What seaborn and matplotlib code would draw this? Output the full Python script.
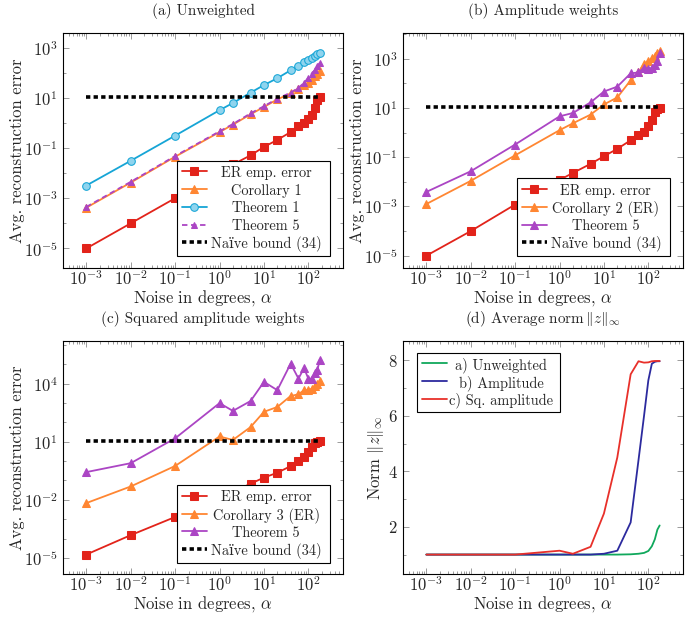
import numpy as np
import pandas as pd
import matplotlib
matplotlib.use('Agg')
import matplotlib.pyplot as plt
import seaborn as sns
from matplotlib.text import Text
from matplotlib.legend_handler import HandlerLine2D
from matplotlib.ticker import FixedLocator, LogFormatterSciNotation, NullFormatter

sns.set_style('ticks')
plt.rcParams['font.family'] = ['cmr10', 'DejaVu Serif']
plt.rcParams['mathtext.fontset'] = 'cm'
plt.rcParams['axes.unicode_minus'] = False
plt.rcParams['axes.formatter.use_mathtext'] = True

# ---------------- data ----------------
alpha = [1e-3, 1e-2, 1e-1, 1, 2, 5, 10, 20, 40, 60, 80, 100, 120, 140, 160, 180]

# (a) unweighted
er_a = [1.0e-5, 1.0e-4, 1.0e-3, 0.011, 0.022, 0.051, 0.11, 0.21, 0.43, 0.72, 0.97, 1.45, 2.1, 3.9, 8.2, 10.5]
cor1_a = [4.2e-4, 4.2e-3, 0.045, 0.43, 0.85, 2.2, 4.3, 8.6, 15, 23, 31, 40, 53, 71, 91, 112]
thm1_a = [3.2e-3, 0.031, 0.31, 3.2, 6.2, 16, 32, 60, 125, 190, 255, 330, 400, 460, 540, 620]
thm5_a = [4.5e-4, 4.5e-3, 0.048, 0.46, 0.9, 2.4, 4.6, 9.2, 16, 25, 39, 62, 91, 130, 178, 240]

# (b) amplitude weights
er_b = [1.0e-5, 1.0e-4, 1.2e-3, 0.012, 0.023, 0.054, 0.11, 0.22, 0.49, 0.8, 1.1, 1.8, 3.4, 7.2, 9.4, 10.2]
cor2_b = [1.26e-3, 0.011, 0.12, 1.26, 2.4, 5.4, 14, 27, 135, 280, 630, 830, 1050, 1290, 1700, 2040]
thm5_b = [3.9e-3, 0.027, 0.33, 4.6, 6.3, 17, 47, 74, 257, 280, 440, 400, 420, 540, 830, 1700]

# (c) squared amplitude weights
er_c = [1.5e-5, 1.5e-4, 1.3e-3, 0.012, 0.025, 0.068, 0.14, 0.25, 0.55, 1.0, 1.6, 2.8, 5.5, 8.5, 10.0, 10.7]
cor3_c = [6.8e-3, 0.049, 0.56, 18.6, 12.3, 57, 350, 620, 2300, 2800, 4600, 4600, 5500, 7600, 10000, 13800]
thm5_c = [0.27, 0.78, 15, 980, 390, 1260, 12300, 4600, 107000, 18200, 63000, 18200, 18200, 37000, 49000, 166000]

# naive bound (34)
naive_x = [1e-3, 180]
naive_y = [11.2, 11.2]

# (d) average norm
norm_unw = [1, 1, 1, 1, 1, 1, 1, 1, 1.01, 1.03, 1.06, 1.13, 1.3, 1.55, 1.9, 2.05]
norm_amp = [1, 1, 1, 1, 1, 1, 1.03, 1.14, 2.16, 4.4, 6.0, 7.28, 7.88, 7.95, 7.97, 7.97]
norm_sq = [1, 1, 1, 1.14, 1.03, 1.28, 2.48, 4.5, 7.5, 7.97, 7.92, 7.93, 7.97, 7.98, 7.98, 7.98]

x_major = [1e-3, 1e-2, 1e-1, 1e0, 1e1, 1e2]

titles = ['(a) Unweighted', '(b) Amplitude weights', '(c) Squared amplitude weights',
          r'(d) Average norm$\,\|z\|_\infty$']
xlabel = r'Noise in degrees, $\alpha$'
ylabel = 'Avg. reconstruction error'
ylabel_d = r'Norm $\|z\|_\infty$'

RED = '#e2231a'
ORANGE = '#ff8632'
CYAN = '#16a5d6'
PURPLE = '#ab45c4'
GREEN = '#10a85c'
BLUE = '#2c2a9e'
RED2 = '#e8302a'

FS = 12      # axis labels / ticks
TFS = 10.9   # titles
LFS = 10.4   # legend
W, H = 685, 619
fig = plt.figure(figsize=(W / 100, H / 100), dpi=100)


def rect(l, r, t, b):
    return [l / W, 1 - b / H, (r - l) / W, (b - t) / H]


ax_a = fig.add_axes(rect(63, 343, 33, 268))
ax_b = fig.add_axes(rect(403, 683, 33, 268))
ax_c = fig.add_axes(rect(63, 343, 341, 574))
ax_d = fig.add_axes(rect(403, 683, 341, 574))


class CenteredText(HandlerLine2D):
    def __init__(self, text, line_len, fontsize, **kw):
        super().__init__(**kw)
        self.text = text
        self.line_len = line_len
        self.fs = fontsize

    def create_artists(self, legend, orig_handle, xdescent, ydescent, width, height,
                       fontsize, trans):
        arts = super().create_artists(legend, orig_handle, xdescent, ydescent,
                                      self.line_len, height, fontsize, trans)
        t = Text(-xdescent + self.line_len + (width - self.line_len) / 2,
                 (height - ydescent) / 2, self.text, ha='center', va='center_baseline',
                 fontsize=self.fs, family=['cmr10', 'DejaVu Serif'], transform=trans)
        return list(arts) + [t]


def make_legend(ax, handles, labels, width_px, loc, anchor):
    fs = LFS
    L = width_px * 0.72 / fs - 0.66
    hm = {h: CenteredText(lab, 18.0, fs) for h, lab in zip(handles, labels)}
    leg = ax.legend(handles, [''] * len(handles), handler_map=hm, handlelength=L,
                    handletextpad=0, handleheight=1.05, borderpad=0.33, labelspacing=0.22,
                    loc=loc, bbox_to_anchor=anchor, borderaxespad=0, fancybox=False,
                    edgecolor='black', framealpha=1, numpoints=1, fontsize=fs)
    leg.get_frame().set_linewidth(0.8)
    return leg


def style_axis(ax, ymajor=None, yminor=None, log_y=True):
    ax.set_xlim(10 ** -3.526, 10 ** 2.781)
    ax.xaxis.set_major_locator(FixedLocator(x_major))
    x_minor = [m * d for d in [1e-4] + x_major for m in range(2, 10)
               if 10 ** -3.526 < m * d < 10 ** 2.781]
    ax.xaxis.set_minor_locator(FixedLocator(x_minor))
    ax.xaxis.set_minor_formatter(NullFormatter())
    ax.xaxis.set_major_formatter(LogFormatterSciNotation())
    if log_y:
        ax.yaxis.set_major_locator(FixedLocator(ymajor))
        ax.yaxis.set_minor_locator(FixedLocator(yminor))
        ax.yaxis.set_major_formatter(LogFormatterSciNotation())
        ax.yaxis.set_minor_formatter(NullFormatter())
    ax.tick_params(which='both', direction='in', top=True, right=True, color='#8c8c8c',
                   labelsize=FS, width=0.6)
    ax.tick_params(which='major', length=4)
    ax.tick_params(which='minor', length=2)
    ax.tick_params(axis='x', pad=0.5)
    ax.tick_params(axis='y', pad=4)
    for s in ax.spines.values():
        s.set_color('black')
        s.set_linewidth(0.8)
    ax.set_xlabel(xlabel, fontsize=FS, labelpad=0)


LW = 1.3
MS = 5.5


def line(ax, y, color, marker=None, ls='-', ms=MS, mfc=None, mec=None, lw=LW):
    sns.lineplot(x=alpha, y=y, ax=ax, color=color, marker=marker, linestyle=ls,
                 markersize=ms, markerfacecolor=mfc if mfc else color,
                 markeredgecolor=mec if mec else color, linewidth=lw, legend=False)
    return ax.lines[-1]


def naive(ax):
    sns.lineplot(x=naive_x, y=naive_y, ax=ax, color='black', linewidth=2.6,
                 linestyle=(0, (1.2, 0.9)), legend=False)
    return ax.lines[-1]


for ax in (ax_a, ax_b, ax_c):
    ax.set_xscale('log')
    ax.set_yscale('log')
ax_d.set_xscale('log')

# ---------- (a) ----------
h1 = line(ax_a, er_a, RED, 's')
h2 = line(ax_a, cor1_a, ORANGE, '^')
h3 = line(ax_a, thm1_a, CYAN, 'o', mfc='#8fd4ee')
h4 = line(ax_a, thm5_a, PURPLE, '^', ls=(0, (3, 2)), ms=4.5)
h5 = naive(ax_a)
ax_a.set_ylim(10 ** -5.78, 10 ** 3.58)
style_axis(ax_a, [1e-5, 1e-3, 1e-1, 1e1, 1e3], [1e-4, 1e-2, 1e0, 1e2])
ax_a.set_ylabel(ylabel, fontsize=FS, labelpad=-1)
ax_a.set_title(titles[0], fontsize=TFS, pad=13)
make_legend(ax_a, [h1, h2, h3, h4, h5],
            ['ER emp. error', 'Corollary 1', 'Theorem 1', 'Theorem 5', 'Naïve bound (34)'],
            153, 'lower right', (0.954, 0.051))

# ---------- (b) ----------
h1 = line(ax_b, er_b, RED, 's')
h2 = line(ax_b, cor2_b, ORANGE, '^')
h3 = line(ax_b, thm5_b, PURPLE, '^')
h4 = naive(ax_b)
ax_b.set_ylim(10 ** -5.5, 10 ** 4.05)
style_axis(ax_b, [1e-5, 1e-3, 1e-1, 1e1, 1e3], [1e-4, 1e-2, 1e0, 1e2, 1e4])
ax_b.set_ylabel(ylabel, fontsize=FS, labelpad=-1)
ax_b.set_title(titles[1], fontsize=TFS, pad=13)
make_legend(ax_b, [h1, h2, h3, h4],
            ['ER emp. error', 'Corollary 2 (ER)', 'Theorem 5', 'Naïve bound (34)'],
            153, 'lower right', (0.953, 0.051))

# ---------- (c) ----------
h1 = line(ax_c, er_c, RED, 's')
h2 = line(ax_c, cor3_c, ORANGE, '^')
h3 = line(ax_c, thm5_c, PURPLE, '^')
h4 = naive(ax_c)
ax_c.set_ylim(10 ** -5.83, 10 ** 6.2)
style_axis(ax_c, [1e-5, 1e-2, 1e1, 1e4],
           [1e-4, 1e-3, 1e-1, 1e0, 1e2, 1e3, 1e5, 1e6])
ax_c.set_ylabel(ylabel, fontsize=FS, labelpad=-1)
ax_c.set_title(titles[2], fontsize=TFS, pad=13)
make_legend(ax_c, [h1, h2, h3, h4],
            ['ER emp. error', 'Corollary 3 (ER)', 'Theorem 5', 'Naïve bound (34)'],
            153, 'lower right', (0.954, 0.048))

# ---------- (d) ----------
h1 = line(ax_d, norm_unw, GREEN, None)
h2 = line(ax_d, norm_amp, BLUE, None)
h3 = line(ax_d, norm_sq, RED2, None)
ax_d.set_ylim(0.3, 8.7)
style_axis(ax_d, log_y=False)
ax_d.yaxis.set_major_locator(FixedLocator([2, 4, 6, 8]))
ax_d.yaxis.set_minor_locator(FixedLocator([1, 3, 5, 7]))
ax_d.yaxis.set_minor_formatter(NullFormatter())
ax_d.set_ylabel(ylabel_d, fontsize=FS, labelpad=1)
ax_d.set_title(titles[3], fontsize=TFS, pad=13)
make_legend(ax_d, [h1, h2, h3],
            ['a) Unweighted', 'b) Amplitude', 'c) Sq. amplitude'],
            143, 'upper left', (0.051, 0.95))

fig.savefig('out.png', dpi=100)
